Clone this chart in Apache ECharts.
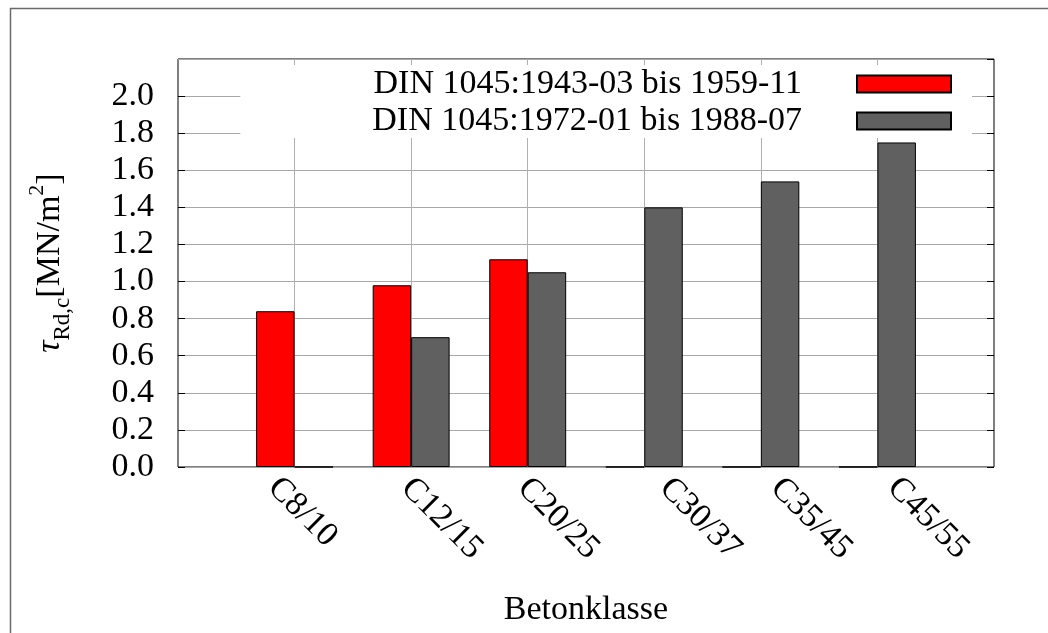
<!DOCTYPE html>
<html>
<head>
<meta charset="utf-8">
<script src="https://cdn.jsdelivr.net/npm/echarts@6/dist/echarts.min.js"></script>
<style>
html,body{margin:0;padding:0;background:#fff;}
#chart{width:1048px;height:633px;}
</style>
</head>
<body>
<div id="chart"></div>
<script>
const categories = ['C8/10', 'C12/15', 'C20/25', 'C30/37', 'C35/45', 'C45/55'];
const seriesNames = ['DIN 1045:1943-03 bis 1959-11', 'DIN 1045:1972-01 bis 1988-07'];
const din1943 = [0.84, 0.98, 1.12, 0, 0, 0];
const din1972 = [0, 0.70, 1.05, 1.40, 1.54, 1.75];
const yMin = 0, yMax = 2.2, yStep = 0.2;
const xTitle = 'Betonklasse';

const FONT = 'Liberation Serif';
const FS = 34;

// axis slots: an empty slot on each side of the classes
const axisData = [''].concat(categories, ['']);
const pad = arr => ['-'].concat(arr, ['-']);

// per-label nudges (padding top, padding left)
const labelPad = [[67, 3], [44, 15], [44, 15], [8, 33], [16, 29], [15, 29]];
const rich = {};
labelPad.forEach((p, i) => {
  rich['l' + i] = { fontFamily: FONT, fontSize: FS, color: '#000', padding: [p[0], 0, 0, p[1]] };
});

const chart = echarts.init(document.getElementById('chart'), null, { renderer: 'canvas' });
chart.setOption({
  animation: false,
  backgroundColor: '#fff',
  textStyle: { fontFamily: FONT },
  graphic: [{
    type: 'polyline', silent: true, z: 10,
    shape: { points: [[10.5, 640], [10.5, 8.5], [1050, 8.5]] },
    style: { stroke: '#6a6a6a', lineWidth: 1.5, fill: null }
  }],
  grid: { left: 178, top: 59, width: 816, height: 408, show: true, borderColor: '#000', borderWidth: 1, backgroundColor: 'transparent' },
  legend: {
    orient: 'vertical', align: 'right', right: 76, top: 65,
    itemWidth: 94, itemHeight: 17, itemGap: 3,
    padding: [2, 20, 0, 132], backgroundColor: '#fff',
    icon: 'rect',
    textStyle: { fontFamily: FONT, fontSize: FS, color: '#000', padding: [0, 50, 0, 0] },
    data: seriesNames
  },
  xAxis: {
    type: 'category', data: axisData, boundaryGap: false,
    axisLine: { show: false }, axisTick: { show: false },
    splitLine: { show: true, interval: (i) => i > 0 && i < axisData.length - 1, lineStyle: { color: '#b0b0b0', width: 1 } },
    axisLabel: {
      interval: 0, rotate: -45, margin: -10, color: '#000', fontFamily: FONT, fontSize: FS,
      formatter: (v) => { const i = categories.indexOf(v); return i < 0 ? '' : '{l' + i + '|' + v + '}'; },
      rich: rich
    },
    name: xTitle, nameLocation: 'middle', nameGap: 126,
    nameTextStyle: { fontFamily: FONT, fontSize: FS, color: '#000' }
  },
  yAxis: [{
    type: 'value', min: yMin, max: yMax, interval: yStep, position: 'left',
    axisLine: { show: false },
    axisTick: { show: true, inside: true, length: 7, lineStyle: { color: '#000', width: 1 } },
    splitLine: { show: true, lineStyle: { color: '#a8a8a8', width: 1 } },
    axisLabel: { margin: 24, color: '#000', fontFamily: FONT, fontSize: FS, showMaxLabel: false, formatter: v => v.toFixed(1) },
    name: '{t|τ}{s|Rd,c}{n|[MN/m}{p|2}{n|]}', nameLocation: 'middle', nameRotate: 90, nameGap: 104,
    nameTextStyle: {
      color: '#000', fontFamily: FONT, fontSize: FS,
      rich: {
        t: { fontFamily: FONT, fontSize: FS, fontStyle: 'italic', color: '#000', lineHeight: 48, verticalAlign: 'middle' },
        s: { fontFamily: FONT, fontSize: 23, color: '#000', lineHeight: 32, verticalAlign: 'bottom' },
        n: { fontFamily: FONT, fontSize: FS, color: '#000', lineHeight: 48, verticalAlign: 'middle' },
        p: { fontFamily: FONT, fontSize: 22, color: '#000', lineHeight: 20, verticalAlign: 'top' }
      }
    }
  }, {
    type: 'value', min: yMin, max: yMax, interval: yStep, position: 'right',
    axisLine: { show: false },
    axisTick: { show: true, inside: true, length: 7, lineStyle: { color: '#000', width: 1 } },
    splitLine: { show: false }, axisLabel: { show: false }
  }],
  series: [{
    name: seriesNames[0], type: 'bar', data: pad(din1943), barWidth: '33%', barGap: '0%',
    itemStyle: { color: '#ff0000', borderColor: '#000', borderWidth: 1 }
  }, {
    name: seriesNames[1], type: 'bar', data: pad(din1972), barWidth: '33%', barGap: '0%',
    itemStyle: { color: '#606060', borderColor: '#000', borderWidth: 1 }
  }]
});
</script>
</body>
</html>
